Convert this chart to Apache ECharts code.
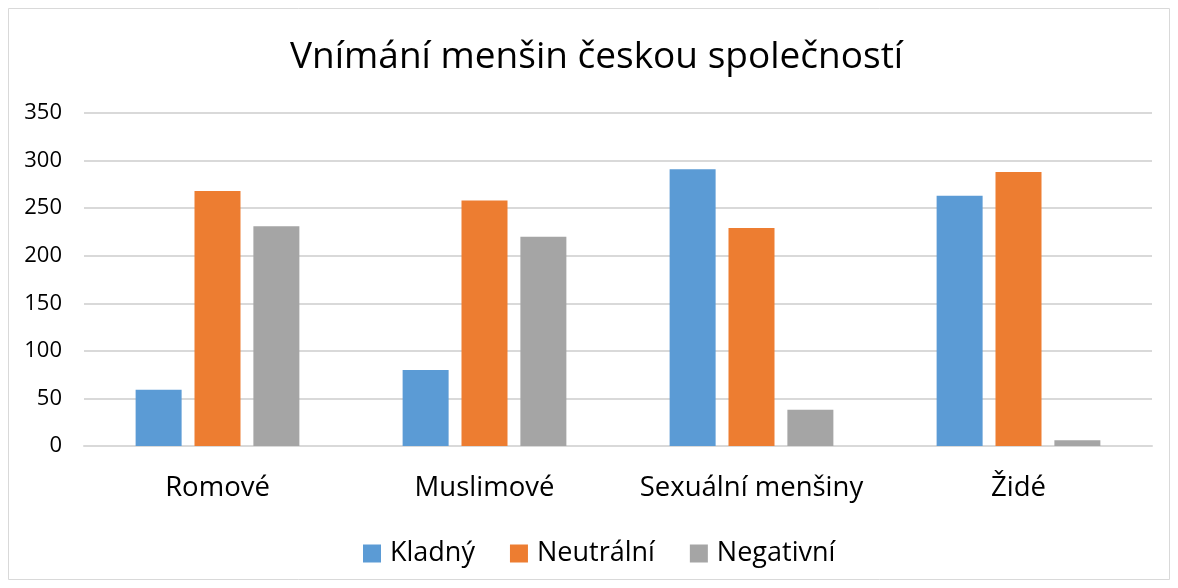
<!DOCTYPE html>
<html><head><meta charset="utf-8">
<script src="https://cdn.jsdelivr.net/npm/echarts@6/dist/echarts.min.js"></script>
<style>html,body{margin:0;padding:0;background:#fff}#c{width:1178px;height:588px}</style>
</head><body><div id="c"></div>
<script>
const categories = ['Romové', 'Muslimové', 'Sexuální menšiny', 'Židé'];
const kladny = [59, 80, 291, 263];
const neutralni = [268, 258, 229, 288];
const negativni = [231, 220, 38, 6];
const yTicks = [0, 50, 100, 150, 200, 250, 300, 350];

const font = '"Open Sans", Lato, sans-serif';
const chart = echarts.init(document.getElementById('c'), null, {renderer: 'canvas'});
chart.setOption({
  backgroundColor: '#fff',
  animation: false,
  graphic: [{type: 'rect', shape: {x: 8.5, y: 8.5, width: 1161, height: 571}, style: {fill: 'none', stroke: '#d9d9d9', lineWidth: 1}}],
  title: {text: 'Vnímání menšin českou společností', left: 285, top: 34,
    textStyle: {fontFamily: font, fontSize: 37, fontWeight: 'normal', color: '#000'}},
  legend: {bottom: 16, left: 358, itemWidth: 18, itemHeight: 18, itemGap: 35,
    icon: 'rect', textStyle: {fontFamily: font, fontSize: 27, color: '#000', padding: [0,0,0,4]},
    data: ['Kladný', 'Neutrální', 'Negativní']},
  grid: {left: 84, right: 26, top: 113, bottom: 142},
  xAxis: {type: 'category', data: categories,
    axisLine: {lineStyle: {color: '#d9d9d9', width: 2}}, axisTick: {show: false},
    axisLabel: {fontFamily: font, fontSize: 27.5, color: '#000', margin: 28, interval: 0, hideOverlap: false}},
  yAxis: {type: 'value', min: 0, max: 350, interval: 50,
    axisLine: {show: false}, axisTick: {show: false},
    splitLine: {lineStyle: {color: '#d9d9d9', width: 2}},
    axisLabel: {fontFamily: font, fontSize: 22, color: '#000', margin: 22,
      formatter: v => yTicks.includes(v) ? String(v) : ''}},
  series: [
    {name: 'Kladný', type: 'bar', data: kladny, barWidth: 46, barGap: '28%', itemStyle: {color: '#5b9bd5'}},
    {name: 'Neutrální', type: 'bar', data: neutralni, barWidth: 46, itemStyle: {color: '#ed7d31'}},
    {name: 'Negativní', type: 'bar', data: negativni, barWidth: 46, itemStyle: {color: '#a5a5a5'}}
  ]
});
</script></body></html>
